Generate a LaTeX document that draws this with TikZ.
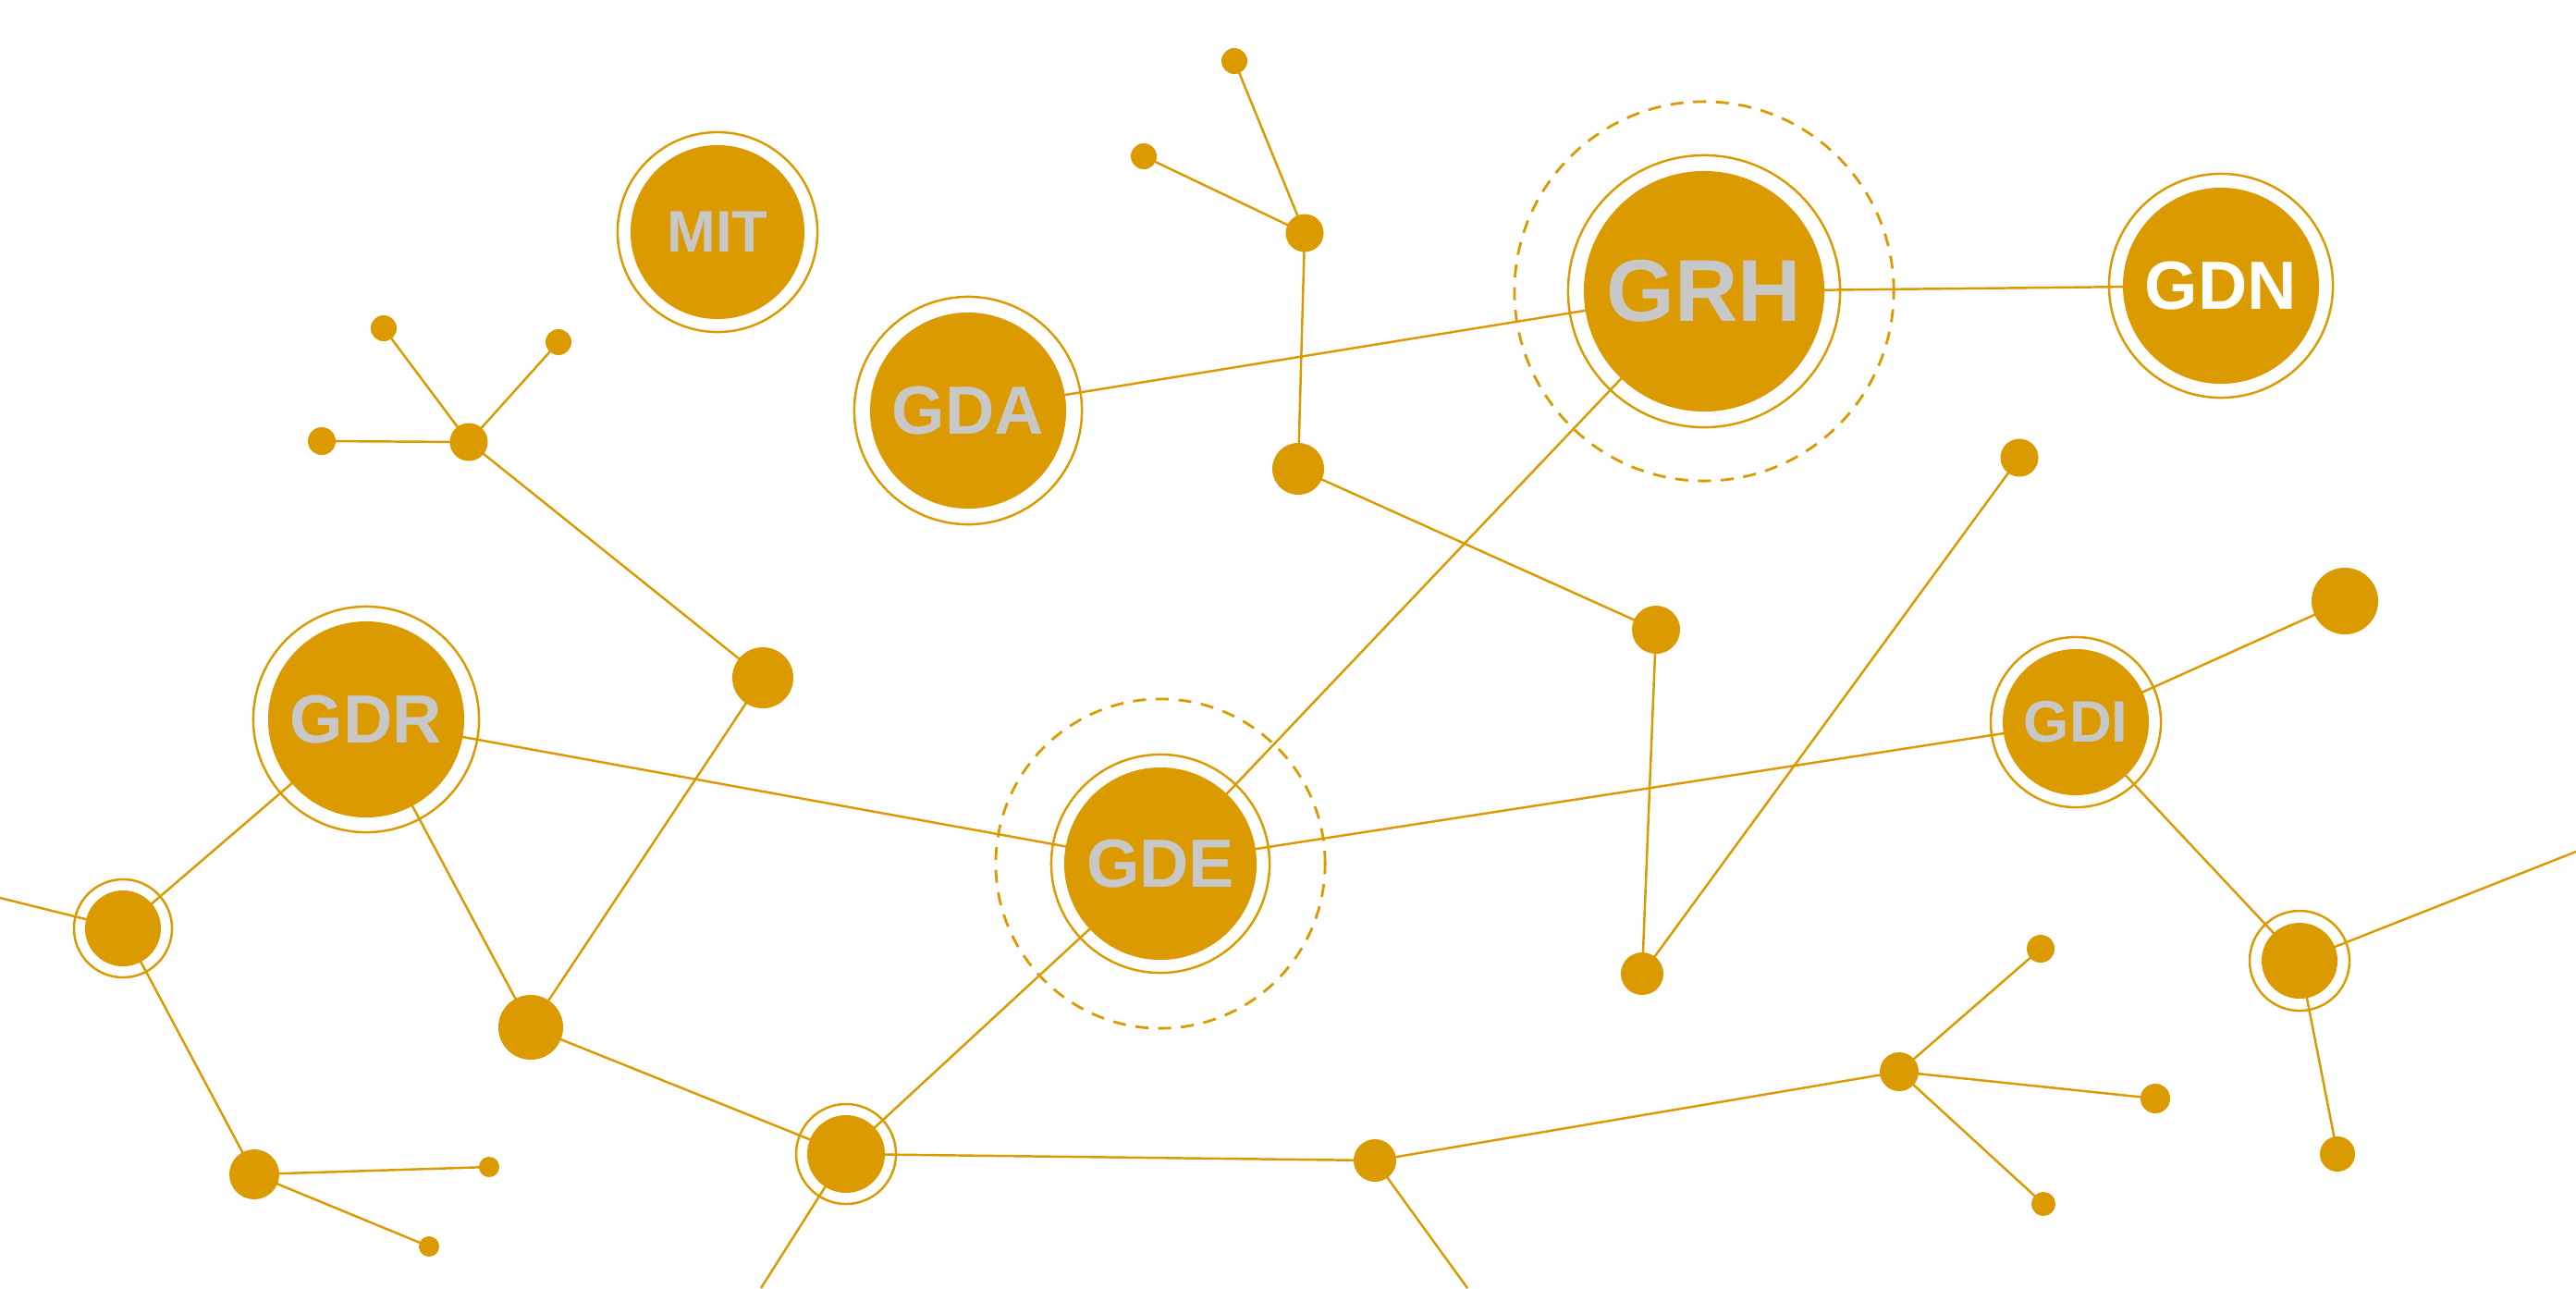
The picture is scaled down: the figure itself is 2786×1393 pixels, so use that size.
\documentclass[tikz,border=0pt]{standalone}
\usepackage{fontspec}
\setmainfont{Liberation Sans}
\pgfdeclarelayer{bg}
\pgfsetlayers{bg,main}
\definecolor{gold}{HTML}{DA9A00}
\definecolor{lbl}{HTML}{C8C8C8}
\tikzset{
  hub/.style={circle, fill=gold, inner sep=0pt, minimum size=#1},
  ring/.style={circle, draw=gold, line width=0.7pt, inner sep=0pt, minimum size=#1},
  halo/.style={circle, draw=gold, line width=0.8pt, dash pattern=on 4pt off 3pt, inner sep=0pt, minimum size=#1},
  big/.style={hub=#1, text=lbl, font=\bfseries\fontsize{21}{21}\selectfont},
  link/.style={draw=gold, line width=0.7pt}
}
\begin{document}
\begin{tikzpicture}[x=0.01cm, y=-0.01cm]
  \useasboundingbox (0,0) rectangle (2786,1393);
  \clip (0,0) rectangle (2786,1393);
  % labelled nodes
  \node[big=1.88cm, font=\bfseries\fontsize{18}{18}\selectfont] (MIT) at (776,251) {MIT};
  \node[ring=2.16cm] at (MIT) {};
  \node[big=2.12cm] (GDA) at (1047,444) {GDA};
  \node[ring=2.46cm] at (GDA) {};
  \node[big=2.6cm, font=\bfseries\fontsize{27}{27}\selectfont] (GRH) at (1843,315) {GRH};
  \node[ring=2.94cm] at (GRH) {};
  \node[halo=4.1cm] at (GRH) {};
  \node[big=2.12cm, text=white] (GDN) at (2402,309) {GDN};
  \node[ring=2.42cm] at (GDN) {};
  \node[big=2.12cm] (GDR) at (396,778) {GDR};
  \node[ring=2.44cm] at (GDR) {};
  \node[big=2.08cm] (GDE) at (1255,934) {GDE};
  \node[ring=2.36cm] at (GDE) {};
  \node[halo=3.56cm] at (GDE) {};
  \node[big=1.58cm, font=\bfseries\fontsize{18}{18}\selectfont] (GDI) at (2245,781) {GDI};
  \node[ring=1.84cm] at (GDI) {};
  % small dots
  \node[hub=0.28cm] (a) at (1335,66) {};
  \node[hub=0.28cm] (b) at (1237,169) {};
  \node[hub=0.41cm] (c) at (1411,252) {};
  \node[hub=0.56cm] (d) at (1404,507) {};
  \node[hub=0.52cm] (e) at (1791,681) {};
  \node[hub=0.46cm] (f) at (1776,1053) {};
  \node[hub=0.41cm] (g) at (2184,495) {};
  \node[hub=0.72cm] (h) at (2536,650) {};
  \node[hub=0.82cm] (i) at (2487,1039) {};
  \node[ring=1.08cm] at (i) {};
  \node[hub=0.38cm] (j) at (2528,1248) {};
  \node[hub=0.3cm] (k) at (2207,1026) {};
  \node[hub=0.42cm] (l) at (2054,1159) {};
  \node[hub=0.32cm] (m) at (2331,1188) {};
  \node[hub=0.26cm] (n) at (2210,1302) {};
  \node[hub=0.46cm] (o) at (1487,1255) {};
  \node[hub=0.84cm] (p) at (915,1248) {};
  \node[ring=1.08cm] at (p) {};
  \node[hub=0.7cm] (q) at (574,1111) {};
  \node[hub=0.66cm] (r) at (825,733) {};
  \node[hub=0.82cm] (s) at (133,1004) {};
  \node[ring=1.06cm] at (s) {};
  \node[hub=0.54cm] (t) at (275,1270) {};
  \node[hub=0.22cm] (u) at (529,1262) {};
  \node[hub=0.22cm] (v) at (464,1348) {};
  \node[hub=0.41cm] (w) at (507,478) {};
  \node[hub=0.28cm] (x) at (415,355) {};
  \node[hub=0.3cm] (y) at (348,477) {};
  \node[hub=0.28cm] (z) at (604,370) {};
  \coordinate (eR) at (2786,921);
  \coordinate (eL) at (0,971);
  \coordinate (eP) at (823,1393);
  \coordinate (eO) at (1587,1393);
  % links
  \begin{pgfonlayer}{bg}
    \foreach \u/\v in {a/c, b/c, c/d, d/e, e/f, f/g, GDA/GRH, GRH/GDN, GRH/GDE,
        GDR/GDE, GDE/GDI, GDI/h, GDI/i, i/j, i/eR, GDE/p, p/q, q/r, r/w,
        w/x, w/y, w/z, GDR/s, s/eL, GDR/q, s/t, t/u, t/v, p/o, p/eP,
        o/l, l/k, l/m, l/n, o/eO}
      \draw[link] (\u.center) -- (\v.center);
  \end{pgfonlayer}
\end{tikzpicture}
\end{document}
